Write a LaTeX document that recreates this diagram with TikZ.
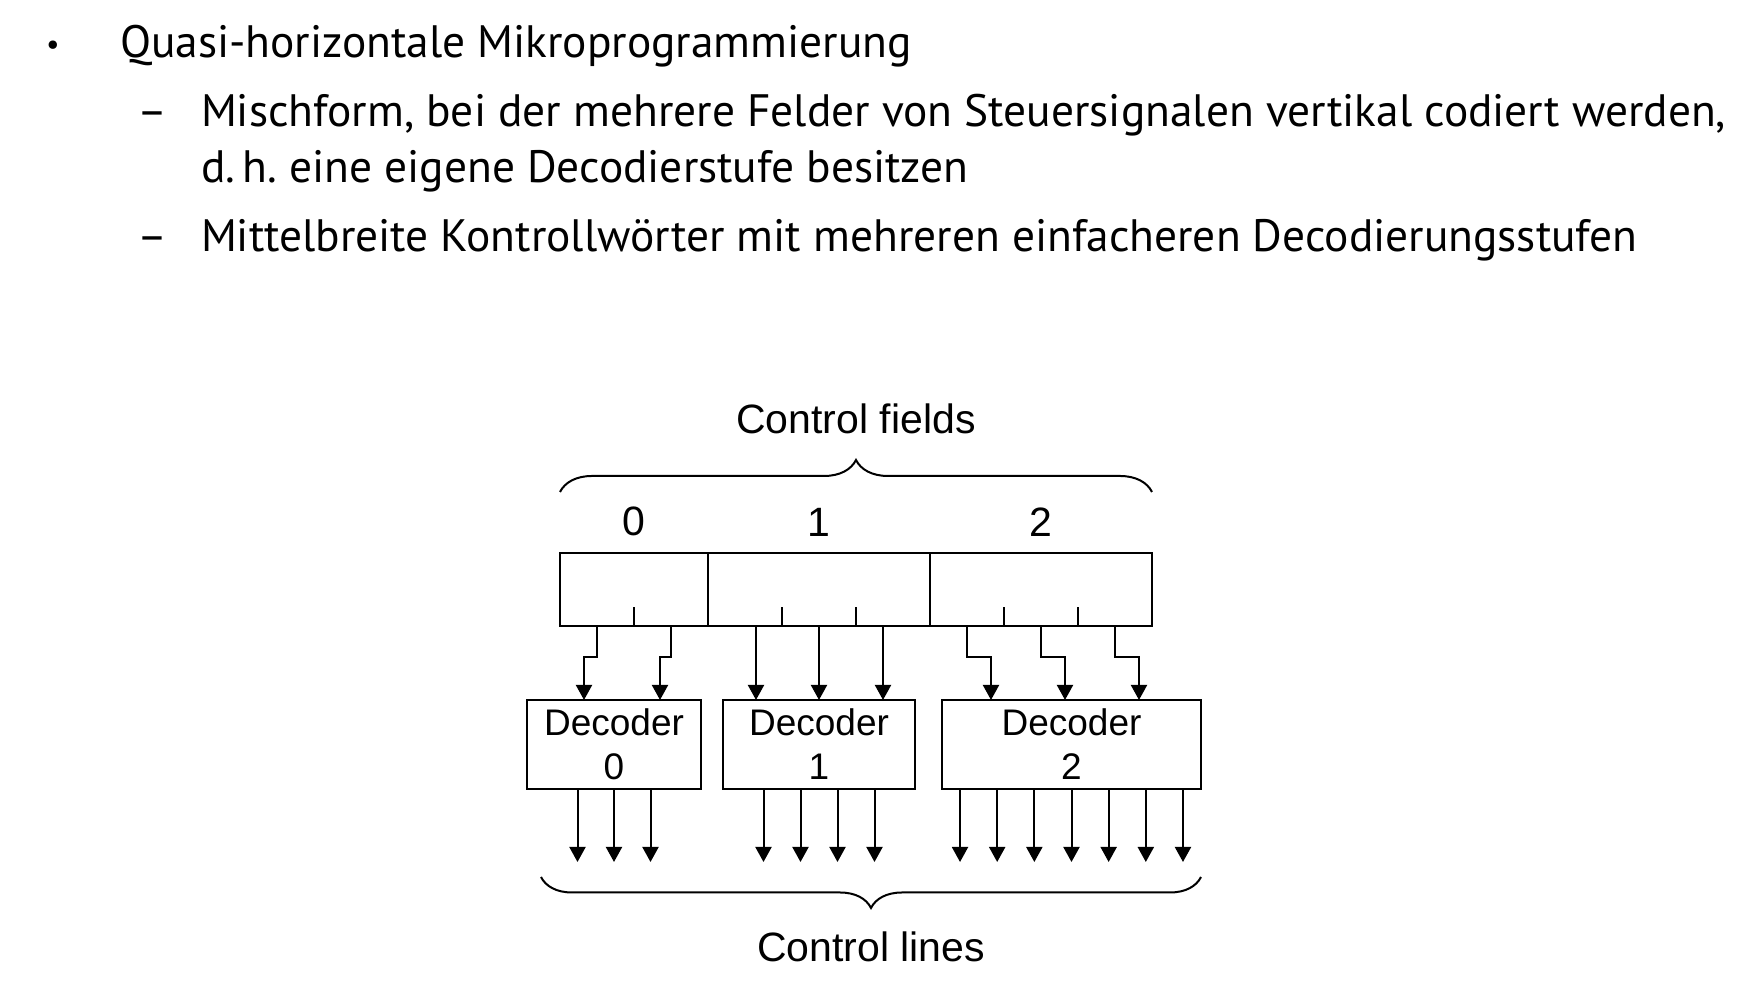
\documentclass[tikz,border=0pt]{standalone}
\usepackage{fontspec}
\setsansfont{Liberation Sans}
\newfontfamily\slidefont{PT Sans}
\usetikzlibrary{positioning,arrows.meta,decorations.pathreplacing}

\begin{document}
\begin{tikzpicture}[
    x=0.5pt, y=0.5pt,
    line width=1pt,
    font=\sffamily,
    field/.style={draw, minimum height=36.5pt, inner sep=0pt, outer sep=0pt},
    decoder/.style={draw, minimum height=44.5pt, inner sep=0pt, outer sep=0pt, align=center, font=\sffamily\fontsize{18.5}{22}\selectfont},
    numtext/.style={font=\sffamily\fontsize{20.5}{24}\selectfont},
    slide/.style={inner sep=0pt, anchor=base west, font=\slidefont\fontsize{22.7}{28}\selectfont},
    curly/.style={decorate, decoration={brace, amplitude=16pt}},
    arrow/.style={-{Triangle[width=8pt, length=7.5pt]}}
]
    \useasboundingbox (0,0) rectangle (1737,1000);

    % Aufzaehlung
    \node (dot) [slide, anchor=base, font=\slidefont\fontsize{15}{18}\selectfont] at (53,945) {•};
    \node (item) [slide] at (119,942) {Quasi-horizontale Mikroprogrammierung};
    \node (dash1) [slide, anchor=base] at (152,873) {–};
    \node (sub1) [slide] at (200,873) {Mischform, bei der mehrere Felder von Steuersignalen vertikal codiert werden,};
    \node (sub1b) [slide] at (200,817) {d.\,h.\ eine eigene Decodierstufe besitzen};
    \node (dash2) [slide, anchor=base] at (152,748) {–};
    \node (sub2) [slide] at (200,748) {Mittelbreite Kontrollwörter mit mehreren einfacheren Decodierungsstufen};

    % Kontrollwort mit drei Feldern
    \node (f0) [field, minimum width=74pt, anchor=north west] at (560,447) {};
    \node (f1) [field, minimum width=111pt, right=0pt of f0] {};
    \node (f2) [field, minimum width=111pt, right=0pt of f1] {};
    \node (n0) [numtext, above=4.5pt of f0] {0};
    \node (n1) [numtext, above=4.5pt of f1] {1};
    \node (n2) [numtext, above=4.5pt of f2] {2};
    \draw (f0.south) -- ++(0,9.5pt);
    \foreach \f in {f1,f2}
        \draw ([xshift=-18.5pt]\f.south) -- ++(0,9.5pt) ([xshift=18.5pt]\f.south) -- ++(0,9.5pt);

    \draw [curly] ([yshift=30.5pt]f0.north west) -- ([yshift=30.5pt]f2.north east)
        node (cfields) [numtext, midway, yshift=36.5pt] {Control fields};

    % Decoder
    \node (dec0) [decoder, minimum width=87pt, anchor=north west] at (527,300) {Decoder\\0};
    \node (dec1) [decoder, minimum width=96pt, right=11pt of dec0] {Decoder\\1};
    \node (dec2) [decoder, minimum width=129.5pt, right=13.5pt of dec1] {Decoder\\2};

    \draw [arrow] ([xshift=-18.5pt]f0.south) -- ++(0,-15.3pt) -| ([xshift=-15pt]dec0.north);
    \draw [arrow] ([xshift=18.5pt]f0.south) -- ++(0,-15.3pt) -| ([xshift=23pt]dec0.north);
    \foreach \s in {-31.5,0,32}
        \draw [arrow] ([xshift=\s pt]f1.south) -- ([xshift=\s pt]dec1.north);
    \foreach \s/\t in {-37/-40.25,0/-3.25,37/33.75}
        \draw [arrow] ([xshift=\s pt]f2.south) -- ++(0,-15.3pt) -| ([xshift=\t pt]dec2.north);

    % Steuerleitungen
    \foreach \i in {-1,0,1}
        \draw [arrow] ([xshift=\i*18.25pt]dec0.south) -- ++(0,-36.5pt);
    \foreach \i in {-1.5,-0.5,0.5,1.5}
        \draw [arrow] ([xshift=\i*18.5pt]dec1.south) -- ++(0,-36.5pt);
    \foreach \i in {-3,...,3}
        \draw [arrow] ([xshift=\i*18.58pt]dec2.south) -- ++(0,-36.5pt);

    \draw [curly, decoration={mirror, amplitude=15.5pt}] ([xshift=7pt,yshift=-44pt]dec0.south west) -- ([yshift=-44pt]dec2.south east)
        node (clines) [numtext, midway, yshift=-35pt] {Control lines};
\end{tikzpicture}
\end{document}
